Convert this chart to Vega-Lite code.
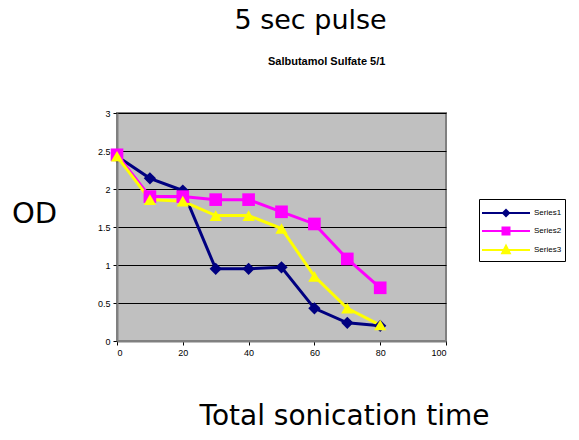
{
  "$schema": "https://vega.github.io/schema/vega-lite/v6.json",
  "padding": {"left": 10, "top": 7, "right": 5, "bottom": 5},
  "background": "white",
  "title": {"text": "5 sec pulse", "font": "DejaVu Sans", "fontSize": 27, "fontWeight": "normal", "color": "black", "anchor": "start", "frame": "bounds", "dx": 224, "offset": 20},
  "vconcat": [
    {
      "width": 329,
      "height": 228,
      "title": {"text": "Salbutamol Sulfate 5/1", "font": "Liberation Sans", "fontSize": 11, "fontWeight": "bold", "color": "black", "anchor": "start", "frame": "group", "dx": 151, "offset": 42},
      "data": {"values": [
        {"t": 0, "od": 2.43, "s": "Series1"}, {"t": 10, "od": 2.14, "s": "Series1"}, {"t": 20, "od": 1.98, "s": "Series1"},
        {"t": 30, "od": 0.95, "s": "Series1"}, {"t": 40, "od": 0.95, "s": "Series1"}, {"t": 50, "od": 0.97, "s": "Series1"},
        {"t": 60, "od": 0.43, "s": "Series1"}, {"t": 70, "od": 0.24, "s": "Series1"}, {"t": 80, "od": 0.2, "s": "Series1"},
        {"t": 0, "od": 2.45, "s": "Series2"}, {"t": 10, "od": 1.9, "s": "Series2"}, {"t": 20, "od": 1.9, "s": "Series2"},
        {"t": 30, "od": 1.86, "s": "Series2"}, {"t": 40, "od": 1.86, "s": "Series2"}, {"t": 50, "od": 1.7, "s": "Series2"},
        {"t": 60, "od": 1.54, "s": "Series2"}, {"t": 70, "od": 1.08, "s": "Series2"}, {"t": 80, "od": 0.7, "s": "Series2"},
        {"t": 0, "od": 2.43, "s": "Series3"}, {"t": 10, "od": 1.86, "s": "Series3"}, {"t": 20, "od": 1.84, "s": "Series3"},
        {"t": 30, "od": 1.65, "s": "Series3"}, {"t": 40, "od": 1.65, "s": "Series3"}, {"t": 50, "od": 1.48, "s": "Series3"},
        {"t": 60, "od": 0.85, "s": "Series3"}, {"t": 70, "od": 0.43, "s": "Series3"}, {"t": 80, "od": 0.21, "s": "Series3"}
      ]},
      "encoding": {
        "x": {"field": "t", "type": "quantitative", "scale": {"domain": [0, 100], "nice": false},
          "axis": {"values": [0, 20, 40, 60, 80, 100], "grid": false, "title": "Total sonication time",
            "titleFont": "DejaVu Sans", "titleFontSize": 28, "titleFontWeight": "normal", "titleColor": "black",
            "titleX": 227, "titleY": 83, "titleBaseline": "alphabetic", "titleAnchor": null, "titleAlign": "center"}},
        "y": {"field": "od", "type": "quantitative", "scale": {"domain": [0, 3], "nice": false},
          "axis": {"values": [0, 0.5, 1, 1.5, 2, 2.5, 3], "format": "~g", "grid": true, "gridColor": "black", "gridOpacity": 1, "gridWidth": 1,
            "title": "OD", "titleAngle": 0, "titleFont": "DejaVu Sans", "titleFontSize": 29, "titleFontWeight": "normal", "titleColor": "black",
            "titleX": -83, "titleY": 100, "titleAlign": "center", "titleBaseline": "middle"}}
      },
      "layer": [
        {"mark": {"type": "line", "strokeWidth": 3},
          "encoding": {"color": {"field": "s", "type": "nominal",
            "scale": {"range": ["#000080", "#FF00FF", "#FFFF00"]}, "legend": null}}},
        {"transform": [{"filter": "datum.s === 'Series1'"}],
          "mark": {"type": "point", "filled": true, "opacity": 1, "size": 150, "shape": "diamond", "color": "#000080"}},
        {"transform": [{"filter": "datum.s === 'Series2'"}],
          "mark": {"type": "point", "filled": true, "opacity": 1, "size": 160, "shape": "square", "color": "#FF00FF"}},
        {"transform": [{"filter": "datum.s === 'Series3'"}],
          "mark": {"type": "point", "filled": true, "opacity": 1, "size": 150, "shape": "triangle-up", "color": "#FFFF00"}},
        {"mark": {"type": "point", "filled": true, "opacity": 0, "strokeWidth": 2},
          "encoding": {
            "fill": {"field": "s", "type": "nominal",
              "scale": {"domain": ["Series1", "Series2", "Series3"], "range": ["#000080", "#FF00FF", "#FFFF00"]},
              "legend": {"title": null, "orient": "none", "legendX": 362, "legendY": 86, "strokeColor": "black", "fillColor": "white",
                "padding": 3, "labelFont": "Liberation Sans", "labelFontSize": 8, "labelColor": "black", "rowPadding": 0,
                "symbolSize": 400, "symbolStrokeWidth": 2, "symbolOpacity": 1, "symbolOffset": 13, "labelOffset": 17}},
            "stroke": {"field": "s", "type": "nominal",
              "scale": {"domain": ["Series1", "Series2", "Series3"], "range": ["#000080", "#FF00FF", "#FFFF00"]},
              "legend": {"title": null, "orient": "none", "legendX": 362, "legendY": 86, "strokeColor": "black", "fillColor": "white",
                "padding": 3, "labelFont": "Liberation Sans", "labelFontSize": 8, "labelColor": "black", "rowPadding": 0,
                "symbolSize": 400, "symbolStrokeWidth": 2, "symbolOpacity": 1, "symbolOffset": 13, "labelOffset": 17}},
            "shape": {"field": "s", "type": "nominal",
              "scale": {"domain": ["Series1", "Series2", "Series3"], "range": [
                "M-2.4,0H2.4M-0.3,0L0,-0.3L0.3,0L0,0.3Z",
                "M-2.4,0H2.4M-0.35,-0.35H0.35V0.35H-0.35Z",
                "M-2.4,0H2.4M0,-0.42L0.38,0.32H-0.38Z"]},
              "legend": {"title": null, "orient": "none", "legendX": 362, "legendY": 86, "strokeColor": "black", "fillColor": "white",
                "padding": 3, "labelFont": "Liberation Sans", "labelFontSize": 8, "labelColor": "black", "rowPadding": 0,
                "symbolSize": 400, "symbolStrokeWidth": 2, "symbolOpacity": 1, "symbolOffset": 13, "labelOffset": 17}}}}
      ]
    }
  ],
  "config": {
    "view": {"fill": "#C0C0C0", "stroke": "#808080", "strokeWidth": 2},
    "axis": {"labelFont": "Liberation Sans", "labelFontSize": 9, "labelColor": "black", "domainColor": "#808080", "domainWidth": 2, "tickColor": "black", "tickSize": 4, "labelPadding": 3}
  }
}
